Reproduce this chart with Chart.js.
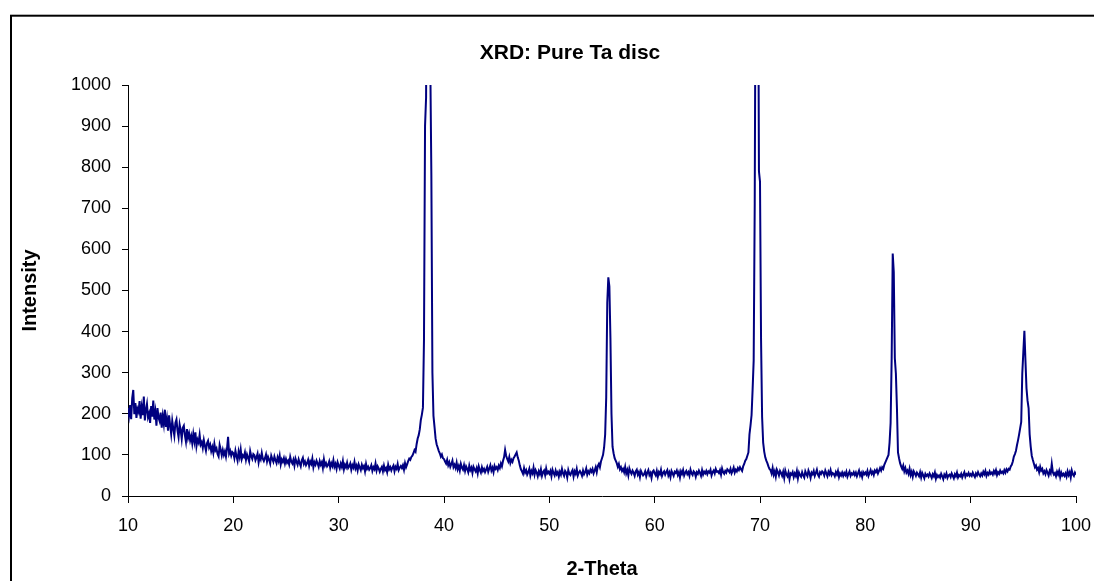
<!DOCTYPE html>
<html>
<head>
<meta charset="utf-8">
<title>XRD: Pure Ta disc</title>
<script src="https://cdn.jsdelivr.net/npm/chart.js@4/dist/chart.umd.min.js"></script>
<style>
  body { margin: 0; background: #fff; }
  canvas { display: block; }
</style>
</head>
<body>
<canvas id="chart" width="1094" height="581"></canvas>
<script>
// Chart texts
const chartTitle = "XRD: Pure Ta disc";
const xAxisTitle = "2-Theta";
const yAxisTitle = "Intensity";

// Scan settings: 2-Theta from 10 to 100 in 0.1 degree steps
const scanStart = 10;
const scanStep = 0.1;

// Intensity, one line per degree (x.0 .. x.9)
const scan10to20 = [
  214,196,221,187,238,258,199,226,190,212,
  205,231,188,216,197,242,184,209,224,192,
  201,178,219,193,232,186,205,171,214,190,
  182,203,166,194,175,210,168,188,159,196,
  172,151,183,164,147,178,186,159,143,174,
  160,139,166,171,148,132,163,141,152,135,
  146,128,151,133,155,121,137,130,149,125,
  131,117,136,122,110,128,134,118,125,109,
  119,105,127,111,116,102,96,124,113,99,
  112,100,109,96,115,144,103,110,98,107
];
const scan20to30 = [
  104,92,110,97,86,108,95,113,90,99,
  95,106,88,101,93,84,109,97,90,102,
  99,87,94,103,82,96,89,105,91,85,
  92,101,84,95,88,79,98,90,83,96,
  87,80,94,85,98,77,89,83,92,79,
  90,81,86,77,95,84,79,88,74,91,
  83,76,89,80,72,87,93,78,84,75,
  80,88,73,84,78,91,70,82,76,86,
  79,71,85,76,82,68,89,74,80,72,
  76,84,69,80,73,87,71,78,66,82
];
const scan30to40 = [
  74,67,79,71,85,65,76,70,81,68,
  72,79,64,75,69,83,67,74,62,77,
  70,63,76,68,73,60,78,66,71,64,
  68,75,61,70,65,79,62,72,67,59,
  66,71,60,74,63,68,58,76,65,70,
  62,69,74,60,71,66,78,63,69,73,
  68,75,64,80,70,77,85,91,88,95,
  98,104,112,108,126,140,148,162,185,198,
  215,380,900,970,1600,2300,1500,1050,780,300,
  195,168,140,126,118,110,104,96,101,92
];
const scan40to50 = [
  90,84,79,88,75,82,71,78,86,70,
  76,68,81,65,73,62,78,69,64,75,
  61,72,66,58,74,63,69,56,71,65,
  60,68,55,72,63,57,70,61,66,58,
  64,71,59,67,75,62,69,58,73,66,
  70,63,74,68,79,72,85,94,112,98,
  90,84,95,80,88,83,92,96,101,106,
  94,86,74,65,60,54,68,57,63,52,
  58,66,50,61,55,69,52,63,57,48,
  60,53,65,49,58,62,51,67,55,59
];
const scan50to60 = [
  54,61,48,64,56,50,62,53,58,47,
  59,52,66,55,49,61,57,45,63,54,
  51,58,63,47,60,54,66,50,57,61,
  56,49,62,53,58,67,52,60,55,64,
  59,66,55,62,70,58,73,78,70,84,
  92,100,118,150,240,470,532,510,385,200,
  120,104,92,86,80,71,78,65,70,61,
  66,58,71,55,63,50,67,59,54,62,
  57,49,60,64,52,58,46,61,55,50,
  53,60,48,57,63,51,56,44,59,62
];
const scan60to70 = [
  55,50,61,47,58,53,64,49,56,60,
  52,58,63,50,57,46,61,55,49,59,
  56,62,51,58,45,60,54,63,50,57,
  61,53,58,49,64,55,51,60,57,47,
  58,54,62,56,49,63,52,59,55,61,
  53,60,57,64,50,58,62,55,66,59,
  60,56,63,52,67,58,54,61,57,65,
  62,58,66,55,61,69,57,64,60,68,
  63,70,65,61,72,78,86,90,98,106,
  150,172,197,260,330,712,1450,2600,1500,790
];
const scan70to80 = [
  765,380,192,130,108,94,86,80,72,66,
  63,55,68,52,60,47,64,58,50,61,
  56,49,59,44,62,53,48,57,41,55,
  52,58,46,55,49,61,43,57,51,47,
  58,50,45,60,53,48,62,55,44,57,
  53,61,49,56,64,52,47,58,54,60,
  57,50,62,55,48,59,53,63,51,56,
  54,48,58,52,61,46,55,50,57,49,
  56,51,59,47,54,60,49,55,52,58,
  51,57,48,55,62,50,56,46,58,53
];
const scan80to90 = [
  57,52,61,49,56,63,54,59,51,62,
  58,64,55,61,68,62,70,66,76,82,
  88,94,100,130,178,335,590,545,335,298,
  215,106,92,80,72,66,74,60,68,57,
  62,54,66,51,59,47,60,55,49,57,
  53,48,58,45,56,50,43,54,49,52,
  47,55,50,44,53,48,57,42,51,46,
  50,45,54,48,41,52,47,55,44,50,
  52,46,55,49,43,53,48,57,45,51,
  48,54,45,52,58,47,53,50,56,49
];
const scan90to100 = [
  53,49,57,51,46,55,50,58,52,48,
  55,50,59,53,61,49,56,52,60,54,
  57,52,61,55,63,51,58,54,62,56,
  59,55,63,57,65,60,66,64,72,76,
  84,96,102,110,124,136,150,165,180,298,
  350,402,330,262,232,214,150,120,98,88,
  79,70,74,64,68,58,71,62,66,55,
  60,53,63,57,50,61,55,78,58,52,
  56,48,59,52,61,46,57,50,54,49,
  55,47,60,51,58,45,62,53,49,57,
  52
];

// Axis ticks
const xTicks = [10, 20, 30, 40, 50, 60, 70, 80, 90, 100];
const yTicks = [0, 100, 200, 300, 400, 500, 600, 700, 800, 900, 1000];

// Joins the scan pieces into {x, y} points
const intensity = [].concat(scan10to20, scan20to30, scan30to40, scan40to50,
  scan50to60, scan60to70, scan70to80, scan80to90, scan90to100);
const points = intensity.map((v, i) => ({
  x: +(scanStart + i * scanStep).toFixed(1),
  y: v
}));

// Draws the outer chart frame and the title
const frameAndTitle = {
  id: 'frameAndTitle',
  beforeDraw(chart) {
    const ctx = chart.ctx;
    ctx.save();
    ctx.fillStyle = '#fff';
    ctx.fillRect(0, 0, chart.width, chart.height);
    ctx.strokeStyle = '#000';
    ctx.lineWidth = 2;
    ctx.strokeRect(11, 15.7, 2000, 2000);
    ctx.restore();
  },
  afterDraw(chart) {
    const ctx = chart.ctx;
    ctx.save();
    ctx.fillStyle = '#000';
    ctx.font = 'bold 21px "Liberation Sans", Arial, sans-serif';
    ctx.textAlign = 'center';
    ctx.textBaseline = 'middle';
    ctx.fillText(chartTitle, 570, 53);
    ctx.restore();
  }
};

const fontFamily = '"Liberation Sans", Arial, sans-serif';

const ctx = document.getElementById('chart').getContext('2d');
new Chart(ctx, {
  type: 'line',
  data: {
    datasets: [{
      label: 'Pure Ta disc',
      data: points,
      borderColor: '#000080',
      borderWidth: 2,
      pointRadius: 0,
      tension: 0,
      fill: false
    }]
  },
  options: {
    responsive: false,
    animation: false,
    layout: { padding: { top: 85, right: 18, left: 0, bottom: 0 } },
    plugins: {
      legend: { display: false },
      tooltip: { enabled: false },
      title: { display: false }
    },
    scales: {
      x: {
        type: 'linear',
        min: 10,
        max: 100,
        afterFit(scale) {
          scale.height = 85;
          scale.paddingLeft = 0;
          scale.paddingRight = 0;
        },
        afterBuildTicks(scale) { scale.ticks = xTicks.map(v => ({ value: v })); },
        border: { color: '#000', width: 1 },
        grid: { drawOnChartArea: false, tickLength: 7, color: '#000' },
        ticks: {
          color: '#000',
          padding: 12,
          callback: v => String(v),
          font: { family: fontFamily, size: 18 }
        },
        title: {
          display: true,
          text: xAxisTitle,
          color: '#000',
          padding: { top: 0, bottom: 2 },
          font: { family: fontFamily, size: 20, weight: 'bold', lineHeight: 1 }
        }
      },
      y: {
        min: 0,
        max: 1000,
        afterFit(scale) {
          scale.width = 128;
          scale.paddingTop = 0;
          scale.paddingBottom = 0;
        },
        afterBuildTicks(scale) { scale.ticks = yTicks.map(v => ({ value: v })); },
        border: { color: '#000', width: 1 },
        grid: { drawOnChartArea: false, tickLength: 6, color: '#000' },
        ticks: {
          color: '#000',
          padding: 11,
          callback: v => String(v),
          font: { family: fontFamily, size: 18 }
        },
        title: {
          display: true,
          text: yAxisTitle,
          color: '#000',
          padding: { top: 18, bottom: 0 },
          font: { family: fontFamily, size: 20, weight: 'bold', lineHeight: 1.2 }
        }
      }
    }
  },
  plugins: [frameAndTitle]
});
</script>
</body>
</html>
